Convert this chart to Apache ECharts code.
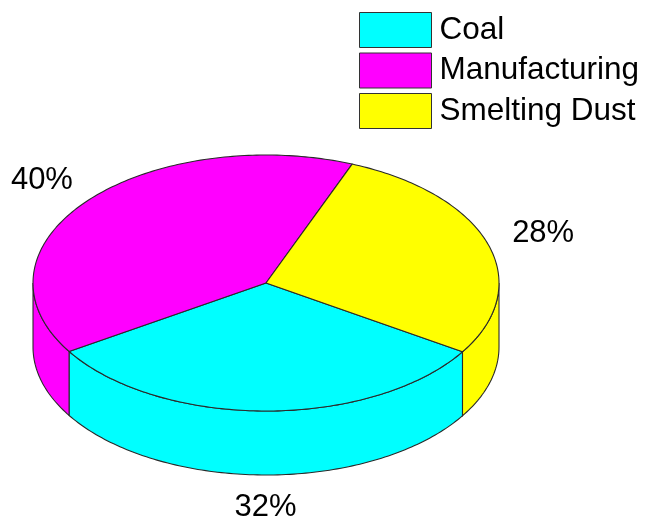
<!DOCTYPE html>
<html>
<head>
<meta charset="utf-8">
<script src="https://cdn.jsdelivr.net/npm/echarts@6/dist/echarts.min.js"></script>
<style>
  html, body { margin: 0; padding: 0; background: #fff; }
  #chart { width: 646px; height: 520px; }
</style>
</head>
<body>
<div id="chart"></div>
<script>
// Sources of emission, in percent
const categories = ['Coal', 'Manufacturing', 'Smelting Dust'];
const shares = [32, 40, 28];
const sliceColors = ['#00ffff', '#ff00ff', '#ffff00'];

// Geometry of the tilted disc (pixels / degrees)
const PIE = { cx: 266, cy: 283, rx: 233, ry: 128, depth: 64, start: -32.5, labelScale: 1.25 };
const EDGE = '#2a2a2a';
const FONT = '"Liberation Sans", Arial, Helvetica, sans-serif';

const total = shares.reduce((a, b) => a + b, 0);

// Slice i runs clockwise from PIE.start; returns [lo, hi] in degrees
function sliceSpan(i) {
  let hi = PIE.start;
  for (let k = 0; k < i; k++) hi -= shares[k] / total * 360;
  return [hi - shares[i] / total * 360, hi];
}

function pt(deg, dz) {
  const t = deg * Math.PI / 180;
  return [PIE.cx + PIE.rx * Math.cos(t), PIE.cy - PIE.ry * Math.sin(t) + (dz || 0)];
}

function arc(lo, hi, dz) {
  const pts = [];
  const n = Math.max(2, Math.ceil(hi - lo));
  for (let j = 0; j <= n; j++) pts.push(pt(lo + (hi - lo) * j / n, dz));
  return pts;
}

// Parts of [lo, hi] that face the viewer (lower half of the ellipse)
function frontParts(lo, hi) {
  const parts = [];
  for (let m = -3; m <= 2; m++) {
    const a = Math.max(lo, 180 + 360 * m);
    const b = Math.min(hi, 360 + 360 * m);
    if (b > a + 1e-6) parts.push([a, b]);
  }
  return parts;
}

function buildSlice(i, color) {
  const [lo, hi] = sliceSpan(i);
  const children = [];

  // curved wall
  frontParts(lo, hi).forEach(([a, b]) => {
    const top = arc(a, b, 0);
    const bottom = arc(a, b, PIE.depth).reverse();
    children.push({
      type: 'polygon',
      z2: 1,
      shape: { points: top.concat(bottom) },
      style: { fill: color, stroke: EDGE, lineWidth: 1.1 }
    });
  });

  // top face
  children.push({
    type: 'polygon',
    z2: 2,
    shape: { points: [[PIE.cx, PIE.cy]].concat(arc(lo, hi, 0)) },
    style: { fill: color, stroke: EDGE, lineWidth: 1.1, lineJoin: 'round' }
  });

  // percentage label
  const mid = (lo + hi) / 2 * Math.PI / 180;
  const s = Math.sin(mid);
  children.push({
    type: 'text',
    z2: 3,
    style: {
      text: shares[i] + '%',
      x: PIE.cx + PIE.labelScale * PIE.rx * Math.cos(mid),
      y: PIE.cy - PIE.labelScale * PIE.ry * s + (s < 0 ? -s * PIE.depth : 0),
      fill: '#000',
      fontSize: 31,
      fontFamily: FONT,
      align: 'center',
      verticalAlign: 'middle'
    }
  });

  return { type: 'group', children };
}

const chart = echarts.init(document.getElementById('chart'), null, { renderer: 'canvas' });

chart.setOption({
  animation: false,
  backgroundColor: '#ffffff',
  legend: {
    data: categories,
    orient: 'vertical',
    left: 354,
    top: 7,
    itemWidth: 72,
    itemHeight: 35,
    itemGap: 4.5,
    icon: 'rect',
    selectedMode: false,
    itemStyle: { borderColor: '#333', borderWidth: 1 },
    textStyle: { fontSize: 31.5, color: '#000', fontFamily: FONT, padding: [2, 0, 0, 3] }
  },
  series: categories.map((name, i) => ({
    type: 'custom',
    name: name,
    coordinateSystem: 'none',
    data: [shares[i]],
    itemStyle: { color: sliceColors[i] },
    renderItem: () => buildSlice(i, sliceColors[i])
  }))
});
</script>
</body>
</html>
